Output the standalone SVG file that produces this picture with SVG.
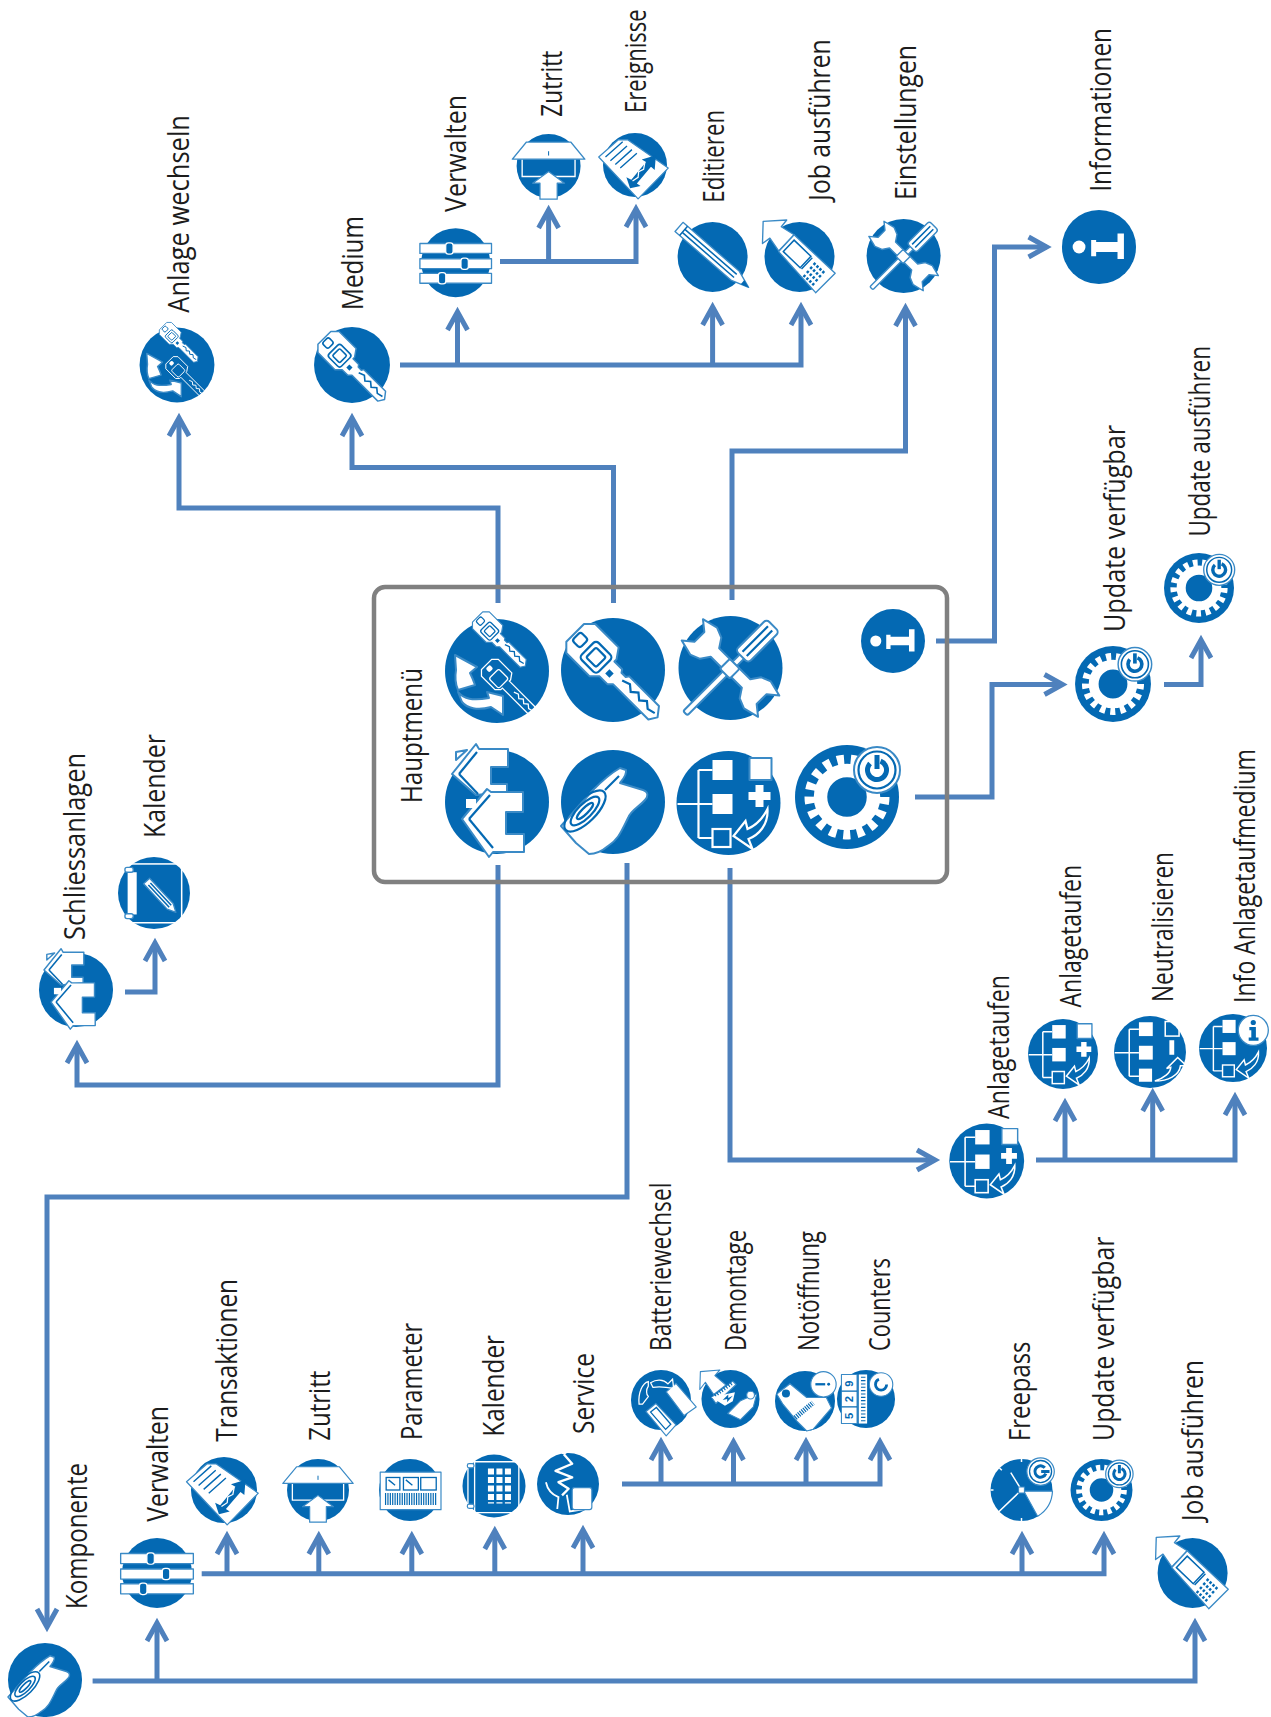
<svg xmlns="http://www.w3.org/2000/svg" width="1271" height="1717" viewBox="0 0 1271 1717">
<style>
.c{fill:none;stroke:#4f81bd;stroke-width:5}
.e{marker-end:url(#a)}
.b{fill:#0469b3}
.w{fill:#fff;stroke:#3a8ac6;stroke-width:2;stroke-linejoin:round}
.wf{fill:#fff}
.l{fill:none;stroke:#fff;stroke-width:2.2}
.bl{fill:none;stroke:#0469b3;stroke-width:2.2}
.bt{fill:none;stroke:#0469b3;stroke-width:5}
.kn{fill:#0469b3;stroke:#fff;stroke-width:1.8}
.t{font-family:"Open Sans","Noto Sans",sans-serif;font-size:29px;fill:#1c1c1c}
.k{font-family:"Liberation Sans",sans-serif;font-size:20px;fill:#0469b3;font-weight:bold}
</style>
<defs>
<marker id="a" markerUnits="userSpaceOnUse" markerWidth="34" markerHeight="30" refX="24" refY="15" orient="auto" viewBox="0 0 34 30"><path d="M6,5 L24,15 L6,25" fill="none" stroke="#4f81bd" stroke-width="5"/></marker>
<circle id="disc" r="52" class="b"/>
<g id="keyS">
<path class="w" d="M-53,-12 L-45,-20 L-12,-20 L-5,-10 L-5,-7 L6,-7 L8,-4 L14,-4 L16,-7 L58,-7 L65,2 L60,10 L10,10 L6,14 L-5,14 L-12,21 L-45,21 L-53,13 Z"/>
<rect class="bl" x="-50" y="-4" width="11" height="12" rx="3"/>
<rect class="bl" x="-33" y="-9" width="24" height="24" rx="4"/>
<rect class="bl" x="-28" y="-4" width="14" height="14" rx="2"/>
<path class="bl" d="M14,1 L22,-2 L28,3 L34,-2 L40,3 L46,-2 L52,3 L60,1"/>
<rect class="b" x="-3" y="2" width="6" height="6"/>
</g>
<g id="keyL">
<path class="l" d="M-53,-12 L-45,-20 L-12,-20 L-5,-10 L-5,-7 L58,-7 L65,2 L60,10 L-5,10 L-5,14 L-12,21 L-45,21 L-53,13 Z"/>
<rect class="l" x="-33" y="-9" width="24" height="24" rx="4"/>
<rect class="wf" x="-49" y="-3" width="9" height="10" rx="3"/>
<path class="l" d="M14,1 L22,-2 L28,3 L34,-2 L40,3 L46,-2 L52,3 L60,1"/>
</g>
<g id="i-key"><use href="#disc"/><use href="#keyS" transform="rotate(45)"/></g>
<g id="i-swap"><use href="#disc"/>
<use href="#keyS" transform="translate(5,-30) rotate(45) scale(.58) translate(-6,0)"/>
<use href="#keyL" transform="translate(14,17.5) rotate(45) scale(.58) translate(-6,0)"/>
<path class="w" d="M-42,-16 L-20,-4 L-27,2 C-24,8 -23,11 -22,14 L-39,19 C-42,12 -42,5 -41,-1 Z"/>
<path class="w" d="M-39,21 C-33,28 -25,30 -8,27 L-10,21 L6,25 L6,44 L-6,36 C-20,40 -30,37 -35,31 Z"/>
</g>
<g id="i-tools"><use href="#disc"/>
<g transform="rotate(45)">
<path class="w" d="M-22,-6 L-28,-15 L-38,-19 L-54,-15 L-44,-7 L-44,7 L-54,15 L-38,19 L-28,15 L-22,6 L22,6 L28,15 L38,19 L54,15 L44,7 L44,-7 L54,-15 L38,-19 L28,-15 L22,-6 Z"/>
</g>
<g transform="rotate(-45)">
<rect class="w" x="-64" y="-3" width="84" height="6" rx="2"/>
<rect class="w" x="-8" y="-7" width="14" height="14" rx="2"/>
<rect class="w" x="16" y="-9" width="44" height="18" rx="4"/>
<path class="bl" d="M20,-3 H56 M20,3 H56"/>
</g>
</g>
<g id="i-info"><use href="#disc"/>
<circle class="wf" cx="-28" cy="0" r="9"/>
<path class="wf" d="M-11,-10 L-4,-10 L-4,-7 L26,-7 L26,-19 L35,-19 L35,17 L26,17 L26,7 L-4,7 L-4,13 L-11,13 Z"/>
</g>
<g id="i-houses"><use href="#disc"/>
<path class="w" d="M-45,-28 L-21,-58 L-18,-53 L11,-53 L11,-35 L-6,-35 L-6,-18 L10,-18 L10,-10 L-21,-7 Z M-41,-50 L-41,-42 L-30,-52 Z"/>
<path class="w" d="M-35,17 L-10,-13 L-6,-10 L26,-10 L26,10 L9,10 L9,32 L27,32 L27,50 L-4,50 L-8,55 Z"/>
<path class="bl" d="M-28,17 L-7,-7"/>
<path class="bl" d="M-28,17 L-4,46"/>
<path class="bl" d="M-38,-28 L-20,-50"/>
<path class="bl" d="M-38,-28 L-19,-8"/>
<rect class="wf" x="-31" y="-3" width="10" height="9"/>
</g>
<g id="i-cyl"><use href="#disc"/>
<path class="w" d="M-52,24 L-20,-12 C-10,-22 0,-30 7,-34 L13,-32 C14,-27 10,-23 7,-19 L30,-12 C36,-10 35,-5 32,-2 C26,5 18,8 15,16 C8,30 5,38 -5,44 C-12,50 -18,52 -24,52 L-37,41 Z"/>
<ellipse class="bl" cx="-28" cy="9" rx="27" ry="11" transform="rotate(-45 -28 9)"/>
<ellipse class="bl" cx="-28" cy="9" rx="19" ry="7" transform="rotate(-45 -28 9)"/>
<ellipse class="bl" cx="-28" cy="9" rx="11" ry="3" transform="rotate(-45 -28 9)"/>
<path class="bl" d="M-8,-12 L6,-26"/>
</g>
<g id="treeB"><use href="#disc"/>
<path class="l" d="M-51,1 H-16 M-30,-33 V35 M-30,-33 H-16 M-30,35 H-16"/>
<rect class="wf" x="-16" y="-43" width="20" height="20"/>
<rect class="wf" x="-16" y="-9" width="20" height="20"/>
</g>
<path id="treeA" class="l" d="M39,6 C40,22 30,32 20,36 L24,46 L5,33 L17,18 L19,26 C28,22 34,16 39,6 Z"/>
<g id="i-tree"><use href="#treeB"/>
<rect class="w" x="21" y="-45" width="22" height="22"/>
<path class="wf" d="M27,-18 H35 V-11 H42 V-3 H35 V4 H27 V-3 H20 V-11 H27 Z"/>
<rect class="l" x="-16" y="26" width="18" height="18"/>
<use href="#treeA"/>
</g>
<g id="i-neutral"><use href="#treeB"/>
<rect class="l" x="22" y="-44" width="20" height="21"/>
<rect class="wf" x="28" y="-17" width="7" height="21"/>
<rect class="wf" x="-16" y="24" width="19" height="19"/>
<path class="l" d="M7,42 C20,38 30,30 30,22 L24,24 L40,8 L53,20 L44,20 C42,34 26,42 7,42 Z"/>
</g>
<g id="i-treei"><use href="#treeB"/>
<rect class="l" x="-16" y="26" width="18" height="18"/>
<use href="#treeA"/>
<circle class="w" cx="31" cy="-27" r="23"/>
<circle class="b" cx="31" cy="-39" r="4"/>
<path class="b" d="M25,-32 H35 V-16 H39 V-11 H24 V-16 H28 V-27 H25 Z"/>
</g>
<g id="pw">
<circle class="w" r="23"/>
<circle class="bl" r="18.5"/>
<circle r="9.5" class="bt" stroke-dasharray="48 12" transform="rotate(-68)"/>
<rect class="b" x="-2.5" y="-15" width="5" height="14"/>
</g>
<g id="gearB"><use href="#disc"/>
<circle r="26.5" fill="none" stroke="#fff" stroke-width="13.5"/>
<circle r="37" fill="none" stroke="#fff" stroke-width="11" stroke-dasharray="7 6.68"/>
</g>
<g id="i-gear"><use href="#gearB"/><use href="#pw" transform="translate(30,-27)"/></g>
<g id="i-slide"><use href="#disc"/>
<g class="w"><rect x="-54" y="-29" width="108" height="15"/><rect x="-54" y="-6" width="108" height="15"/><rect x="-54" y="16" width="108" height="15"/></g>
<rect class="kn" x="-15" y="-30" width="11" height="17" rx="4"/>
<rect class="kn" x="8" y="-7" width="11" height="17" rx="4"/>
<rect class="kn" x="-26" y="15" width="11" height="17" rx="4"/>
</g>
<g id="i-door"><use href="#disc"/>
<path class="l" d="M-43,-11 V17 H43 V-11"/>
<path class="w" d="M-59,-11 L-36,-39 H36 L59,-11 Z"/>
<rect class="b" x="-.8" y="-24" width="1.6" height="7"/>
<path class="w" d="M0,9 L26,28 H14 V54 H-14 V28 H-26 Z"/>
</g>
<g id="i-doc"><use href="#disc"/>
<path class="w" d="M-59,-13 L-27,-41 L-12,-41 L54,5 L5,55 Z"/>
<path class="bl" d="M-48,-13 L-20,-38 M-40,-7 L-13,-31 M-32,-1 L-5,-25 M-24,5 L3,-19"/>
<path class="b" d="M-8,38 L-14,20 L-6,24 L18,-5 L11,-9 L34,-16 L32,8 L26,3 L3,30 L9,34 Z"/>
<path fill="none" stroke="#fff" stroke-width="2" d="M-4,26 L5,20 L6,11 L14,7 L16,-4"/>
</g>
<g id="i-pencil"><use href="#disc"/>
<g transform="rotate(41) translate(-2,-1)">
<path class="w" d="M-65,-9 H46 L72,0 L46,9 H-65 Z"/>
<path class="bl" d="M-56,-9 V9 M-56,-3 H46 M-56,3 H46"/>
<path class="b" d="M60,-4 L72,0 L60,4 Z"/>
</g>
</g>
<g id="i-job"><use href="#disc"/>
<path class="w" d="M-54,-53 L-19,-55 L-27,-45 L-8,-33 L-31,-9 L-44,-28 L-55,-20 Z"/>
<path class="w" d="M-31,-8 L-8,-33 L53,24 L24,53 Z"/>
<path class="bl" d="M-24,-8 L-8,-25 L17,-1 L1,16 Z"/>
<path class="bl" stroke-width="3" d="M3,18 L19,1"/>
<path stroke="#0469b3" stroke-width="4" fill="none" stroke-dasharray="3.5 2.5" d="M11,21 L27,36 M16,15 L32,30 M21,9 L37,24 M6,27 L22,42"/>
</g>
<g id="i-cal2"><use href="#disc"/>
<rect class="l" x="-37" y="-42" width="77" height="85"/>
<rect class="wf" x="-37" y="-30" width="12" height="61"/>
<rect class="w" x="-42" y="-37" width="12" height="7" rx="3"/>
<rect class="w" x="-42" y="30" width="12" height="7" rx="3"/>
<g transform="rotate(47) translate(8,-4)">
<path class="w" d="M-28,-6 H22 L34,0 L22,6 H-28 Z"/>
<path class="bl" d="M-22,-2 H22 M-22,2 H22"/>
</g>
</g>
<g id="i-param"><use href="#disc"/>
<rect class="w" x="-50" y="-30" width="102" height="63"/>
<rect class="bl" x="-40" y="-21" width="23" height="21"/>
<rect class="bl" x="-11" y="-21" width="25" height="21"/>
<rect class="bl" x="18" y="-21" width="26" height="21"/>
<path class="bl" d="M-36,-17 L-25,-8 M-7,-17 L4,-8"/>
<path fill="none" stroke="#0469b3" stroke-width="20" stroke-dasharray="2 2" d="M-42,15 H44"/>
</g>
<g id="i-cal"><use href="#disc"/>
<path class="l" d="M-43,-40 H41 V44 H-43 Z M-32,-40 V44"/>
<rect class="w" x="-44" y="-37" width="11" height="7" rx="3"/>
<rect class="w" x="-44" y="30" width="11" height="7" rx="3"/>
<path fill="none" stroke="#fff" stroke-width="10" stroke-dasharray="10 4" d="M-5,-29 V29 M9,-29 V29 M23,-29 V29"/>
</g>
<g id="i-service"><use href="#disc"/>
<circle class="l" cx="-7" cy="-56" r="5"/>
<path fill="none" stroke="#fff" stroke-width="4" stroke-linejoin="round" d="M-7,-50 L7,-34 L-21,-22 L7,-11 L-16,-3 L1,8 L-10,19"/>
<path fill="none" stroke="#fff" stroke-width="3" d="M-37,-3 C-34,12 -26,18 -16,22 L-18,42 M-2,18 L3,46 L28,42"/>
<rect class="w" x="7" y="6" width="33" height="37" rx="4"/>
</g>
<g id="i-batt"><use href="#disc"/>
<path class="w" d="M9,-14 L26,-29 L61,12 L40,27 Z"/>
<path class="w" d="M-26,20 L-9,6 L26,43 L9,62 Z"/>
<path class="bl" d="M-18,21 L-8,13 L17,42 L8,51 Z"/>
<path class="l" d="M-38,7 C-40,-12 -32,-30 -22,-32 L-22,-24 C-26,-18 -26,-10 -22,-6 L-32,7 Z M-18,-30 C-8,-36 4,-36 12,-28 L20,-36 L22,-20 C12,-22 -2,-24 -14,-22 Z"/>
</g>
<g id="i-demo"><use href="#disc"/>
<path class="w" d="M-54,-49 L-19,-52 L-28,-42 L-8,-25 L-30,-8 L-45,-30 L-55,-17 Z"/>
<path class="w" d="M-34,-3 L4,-32 L10,-26 L-26,8 Z"/>
<path fill="none" stroke="#0469b3" stroke-width="6" stroke-dasharray="2 3" d="M-28,-6 L4,-29"/>
<path class="wf" d="M-34,-3 L8,-12 L4,4 L-10,12 Z"/>
<path class="b" d="M-14,2 L-4,-8 L-4,-2 L4,-6 L-6,6 L-6,0 Z"/>
<path class="w" d="M-5,26 L18,3 L34,-4 L47,-9 L41,14 L18,37 Z"/>
<circle class="w" cx="36" cy="-7" r="7"/>
</g>
<g id="i-noto"><use href="#disc"/>
<path class="w" d="M-49,-12 L-26,-30 L3,-6 L37,-6 L46,12 L14,49 L3,52 L-14,35 L-38,6 Z"/>
<circle class="b" cx="-33" cy="-13" r="7"/>
<path fill="none" stroke="#0469b3" stroke-width="9" stroke-dasharray="2 2" d="M-17,29 L14,3"/>
<circle class="w" cx="32" cy="-29" r="22"/>
<rect class="b" x="18" y="-31" width="17" height="4"/>
<circle class="b" cx="41" cy="-29" r="2.5"/>
</g>
<g id="i-count"><use href="#disc"/>
<rect class="w" x="-44" y="-44" width="28" height="88"/>
<path class="bl" d="M-44,-14 H-16 M-44,14 H-16"/>
<text class="k" transform="translate(-23,36) rotate(-90)">5</text>
<text class="k" transform="translate(-23,6) rotate(-90)">2</text>
<text class="k" transform="translate(-23,-22) rotate(-90)">9</text>
<rect class="wf" x="-13" y="-44" width="15" height="88"/>
<path fill="none" stroke="#0469b3" stroke-width="8" stroke-dasharray="2 4" d="M-5,-40 V40"/>
<circle class="w" cx="27" cy="-26" r="21"/>
<circle cx="27" cy="-26" r="10" class="bt" stroke-dasharray="42 21"/>
</g>
<g id="i-free"><use href="#disc"/>
<path class="w" d="M4,2 L52,2 A52,52 0 0 1 27,44 Z"/>
<path fill="none" stroke="#fff" stroke-width="2.5" d="M0,0 L-18,-29 M0,0 L-46,44 M0,-52 V-47 M-52,0 H-47 M0,52 V47 M-37,-37 L-33,-33"/>
<rect class="w" x="-5" y="-5" width="10" height="10"/>
<g transform="translate(32,-31) rotate(90)"><use href="#pw"/></g>
</g>
</defs>
<rect width="1271" height="1717" fill="#fff"/>
<g id="connectors">
<path class="c e" d="M498,603 V508 H179 V418"/>
<path class="c e" d="M613.5,603 V467.5 H352 V418"/>
<path class="c e" d="M732,600 V451 H905.5 V308"/>
<path class="c e" d="M936,641 H994.5 V247 H1046.6"/>
<path class="c e" d="M915,797 H992 V684.5 H1062.5"/>
<path class="c e" d="M1164,684.5 H1201 V640"/>
<path class="c e" d="M400,365 H801 V307"/>
<path class="c e" d="M457.5,365 V312"/>
<path class="c e" d="M712.6,365 V307"/>
<path class="c e" d="M500,261.5 H636 V209"/>
<path class="c e" d="M548.6,261.5 V210"/>
<path class="c e" d="M498,865 V1085 H77 V1045"/>
<path class="c e" d="M125,992 H155 V943"/>
<path class="c e" d="M627,863 V1197 H47 V1627"/>
<path class="c e" d="M730,868 V1160 H935"/>
<path class="c e" d="M1036,1160 H1235 V1097"/>
<path class="c e" d="M1065,1160 V1103"/>
<path class="c e" d="M1152.7,1160 V1093"/>
<path class="c e" d="M92.6,1681 H1195 V1623"/>
<path class="c e" d="M157,1681 V1623"/>
<path class="c e" d="M201.7,1573.7 H1104 V1536"/>
<path class="c e" d="M227,1573.7 V1536"/>
<path class="c e" d="M318.8,1573.7 V1536"/>
<path class="c e" d="M411.8,1573.7 V1536"/>
<path class="c e" d="M494.8,1573.7 V1531"/>
<path class="c e" d="M583,1573.7 V1530"/>
<path class="c e" d="M1022,1573.7 V1536"/>
<path class="c e" d="M622,1484 H880 V1442"/>
<path class="c e" d="M661,1484 V1442"/>
<path class="c e" d="M733.5,1484 V1442"/>
<path class="c e" d="M806,1484 V1442"/>
</g>
<g id="hauptmenue">
<rect x="374" y="587" width="573" height="295" rx="11" fill="none" stroke="#808080" stroke-width="4.5"/>
<text class="t" transform="translate(422,803) rotate(-90)" textLength="135" lengthAdjust="spacingAndGlyphs">Hauptmenü</text>
<use id="m-swap" href="#i-swap" transform="translate(497,671)"/>
<use id="m-key" href="#i-key" transform="translate(613,670)"/>
<use id="m-tools" href="#i-tools" transform="translate(730.5,668)"/>
<use id="m-info" href="#i-info" transform="translate(893,641) scale(.615)"/>
<use id="m-houses" href="#i-houses" transform="translate(497,802)"/>
<use id="m-cyl" href="#i-cyl" transform="translate(613,802)"/>
<use id="m-tree" href="#i-tree" transform="translate(728.5,803)"/>
<use id="m-gear" href="#i-gear" transform="translate(847,797)"/>
</g>
<g id="n-anlage-wechseln"><use href="#i-swap" transform="translate(177,365) scale(.72)"/><text class="t" transform="translate(189,312.7) rotate(-90)" textLength="197.7" lengthAdjust="spacingAndGlyphs">Anlage wechseln</text></g>
<g id="n-medium"><use href="#i-key" transform="translate(352,365) scale(.73)"/><text class="t" transform="translate(363,310) rotate(-90)" textLength="94" lengthAdjust="spacingAndGlyphs">Medium</text></g>
<g id="n-verwalten1"><use href="#i-slide" transform="translate(455.7,262.7) scale(.663)"/><text class="t" transform="translate(466.4,212) rotate(-90)" textLength="117" lengthAdjust="spacingAndGlyphs">Verwalten</text></g>
<g id="n-zutritt1"><use href="#i-door" transform="translate(548.6,166) scale(.615)"/><text class="t" transform="translate(562,116.7) rotate(-90)" textLength="66" lengthAdjust="spacingAndGlyphs">Zutritt</text></g>
<g id="n-ereignisse"><use href="#i-doc" transform="translate(635,165) scale(.615)"/><text class="t" transform="translate(645.7,113) rotate(-90) scale(.76,1)">Ereignisse</text></g>
<g id="n-editieren"><use href="#i-pencil" transform="translate(712.6,257) scale(.673)"/><text class="t" transform="translate(724,202.7) rotate(-90)" textLength="92.7" lengthAdjust="spacingAndGlyphs">Editieren</text></g>
<g id="n-job1"><use href="#i-job" transform="translate(799.5,257) scale(.673)"/><text class="t" transform="translate(830,200.7) rotate(-90)" textLength="161.4" lengthAdjust="spacingAndGlyphs">Job ausführen</text></g>
<g id="n-einstellungen"><use href="#i-tools" transform="translate(903.6,256) scale(.712)"/><text class="t" transform="translate(916.4,200) rotate(-90)" textLength="155" lengthAdjust="spacingAndGlyphs">Einstellungen</text></g>
<g id="n-informationen"><use href="#i-info" transform="translate(1099,247) scale(.712)"/><text class="t" transform="translate(1111,191.7) rotate(-90)" textLength="163.7" lengthAdjust="spacingAndGlyphs">Informationen</text></g>
<g id="n-update1"><use href="#i-gear" transform="translate(1113,684) scale(.73)"/><text class="t" transform="translate(1125,632) rotate(-90)" textLength="207" lengthAdjust="spacingAndGlyphs">Update verfügbar</text></g>
<g id="n-update2"><use href="#i-gear" transform="translate(1199,588) scale(.673)"/><text class="t" transform="translate(1210,536.6) rotate(-90)" textLength="190.6" lengthAdjust="spacingAndGlyphs">Update ausführen</text></g>
<g id="n-anlagetaufen1"><use href="#i-tree" transform="translate(986.7,1161) scale(.72)"/><text class="t" transform="translate(1009,1119) rotate(-90)" textLength="144" lengthAdjust="spacingAndGlyphs">Anlagetaufen</text></g>
<g id="n-anlagetaufen2"><use href="#i-tree" transform="translate(1063,1054) scale(.673)"/><text class="t" transform="translate(1081,1007.5) rotate(-90)" textLength="142.5" lengthAdjust="spacingAndGlyphs">Anlagetaufen</text></g>
<g id="n-neutralisieren"><use href="#i-neutral" transform="translate(1150,1052) scale(.692)"/><text class="t" transform="translate(1173,1002) rotate(-90)" textLength="150" lengthAdjust="spacingAndGlyphs">Neutralisieren</text></g>
<g id="n-info-anlagetaufmedium"><use href="#i-treei" transform="translate(1233,1048) scale(.654)"/><text class="t" transform="translate(1255,1003) rotate(-90)" textLength="254" lengthAdjust="spacingAndGlyphs">Info Anlagetaufmedium</text></g>
<g id="n-schliessanlagen"><use href="#i-houses" transform="translate(76,990) scale(.712)"/><text class="t" transform="translate(85,940) rotate(-90)" textLength="187" lengthAdjust="spacingAndGlyphs">Schliessanlagen</text></g>
<g id="n-kalender1"><use href="#i-cal2" transform="translate(154,893) scale(.692)"/><text class="t" transform="translate(164.5,838) rotate(-90)" textLength="104" lengthAdjust="spacingAndGlyphs">Kalender</text></g>
<g id="n-komponente"><use href="#i-cyl" transform="translate(45,1680) scale(.712)"/><text class="t" transform="translate(87,1609) rotate(-90)" textLength="146" lengthAdjust="spacingAndGlyphs">Komponente</text></g>
<g id="n-verwalten2"><use href="#i-slide" transform="translate(157,1573) scale(.673)"/><text class="t" transform="translate(167.6,1521.7) rotate(-90)" textLength="115.7" lengthAdjust="spacingAndGlyphs">Verwalten</text></g>
<g id="n-transaktionen"><use href="#i-doc" transform="translate(224,1490) scale(.635)"/><text class="t" transform="translate(237,1441.7) rotate(-90)" textLength="162.7" lengthAdjust="spacingAndGlyphs">Transaktionen</text></g>
<g id="n-zutritt2"><use href="#i-door" transform="translate(318,1490) scale(.596)"/><text class="t" transform="translate(330,1440.7) rotate(-90)" textLength="70" lengthAdjust="spacingAndGlyphs">Zutritt</text></g>
<g id="n-parameter"><use href="#i-param" transform="translate(410,1490) scale(.596)"/><text class="t" transform="translate(421.7,1440) rotate(-90)" textLength="117.3" lengthAdjust="spacingAndGlyphs">Parameter</text></g>
<g id="n-kalender2"><use href="#i-cal" transform="translate(494,1486) scale(.606)"/><text class="t" transform="translate(504,1436.7) rotate(-90)" textLength="101.7" lengthAdjust="spacingAndGlyphs">Kalender</text></g>
<g id="n-service"><use href="#i-service" transform="translate(568,1484) scale(.596)"/><text class="t" transform="translate(594,1434) rotate(-90)" textLength="81" lengthAdjust="spacingAndGlyphs">Service</text></g>
<g id="n-batterie"><use href="#i-batt" transform="translate(661,1400) scale(.577)"/><text class="t" transform="translate(670.6,1351) rotate(-90)" textLength="168.4" lengthAdjust="spacingAndGlyphs">Batteriewechsel</text></g>
<g id="n-demontage"><use href="#i-demo" transform="translate(730.5,1399) scale(.558)"/><text class="t" transform="translate(745.5,1351) rotate(-90)" textLength="121.3" lengthAdjust="spacingAndGlyphs">Demontage</text></g>
<g id="n-notoeffnung"><use href="#i-noto" transform="translate(805,1401) scale(.577)"/><text class="t" transform="translate(819,1351) rotate(-90)" textLength="120" lengthAdjust="spacingAndGlyphs">Notöffnung</text></g>
<g id="n-counters"><use href="#i-count" transform="translate(866,1399) scale(.558)"/><text class="t" transform="translate(890,1351) rotate(-90)" textLength="93" lengthAdjust="spacingAndGlyphs">Counters</text></g>
<g id="n-freepass"><use href="#i-free" transform="translate(1021.5,1490) scale(.596)"/><text class="t" transform="translate(1030,1441) rotate(-90)" textLength="99.4" lengthAdjust="spacingAndGlyphs">Freepass</text></g>
<g id="n-update3"><use href="#i-gear" transform="translate(1101.5,1490) scale(.596)"/><text class="t" transform="translate(1114,1441) rotate(-90)" textLength="204.5" lengthAdjust="spacingAndGlyphs">Update verfügbar</text></g>
<g id="n-job2"><use href="#i-job" transform="translate(1192.6,1573) scale(.673)"/><text class="t" transform="translate(1203,1521) rotate(-90)" textLength="161" lengthAdjust="spacingAndGlyphs">Job ausführen</text></g>
</svg>
